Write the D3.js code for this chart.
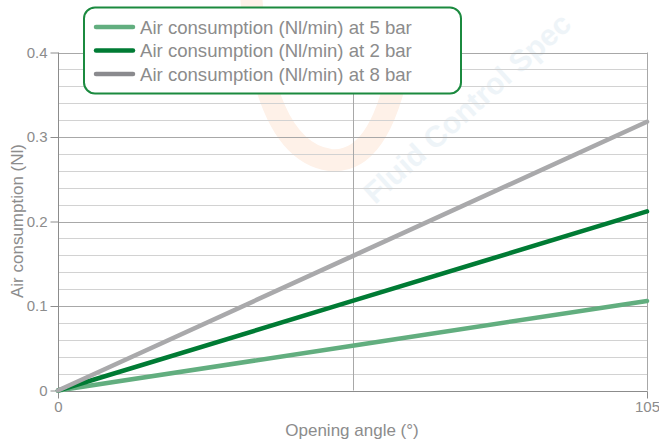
<!DOCTYPE html>
<html>
<head>
<meta charset="utf-8">
<script src="https://cdn.jsdelivr.net/npm/d3@7"></script>
<style>
  body { margin: 0; background: #fff; }
  text { font-family: "Liberation Sans Narrow", "Liberation Sans", sans-serif; fill: #8c8c8c; }
</style>
</head>
<body>
<svg width="659" height="441"></svg>
<script>
var angles = [0, 52.5, 105];
var bar5 = [0, 0.053, 0.106];
var bar2 = [0, 0.106, 0.212];
var bar8 = [0, 0.159, 0.318];
var seriesNames = ['Air consumption (Nl/min) at 5 bar', 'Air consumption (Nl/min) at 2 bar', 'Air consumption (Nl/min) at 8 bar'];
var seriesColors = ['#62ae7f', '#007b34', '#a9a9ab'];
var legendColors = ['#62ae7f', '#007b34', '#8a8a8e'];
var yTicks = [0, 0.1, 0.2, 0.3, 0.4];
var xTicks = [0, 105];

var svg = d3.select('svg');
var x = d3.scaleLinear().domain([0, 105]).range([58, 647]);
var y = d3.scaleLinear().domain([0, 0.4]).range([390.5, 52.5]);

// faint watermark
svg.append('path')
  .attr('d', 'M250,-20 Q260,150 330,160 Q380,165 400,60')
  .attr('fill', 'none').attr('stroke', '#fef1e8').attr('stroke-width', 22);
svg.append('text')
  .attr('transform', 'translate(375,205) rotate(-42)')
  .style('font-family', 'Liberation Sans').style('font-weight', 'bold').style('font-size', '30px')
  .style('fill', '#eef4f8').text('Fluid Control Spec');

// minor grid
var minor = d3.range(0.02, 0.4, 0.02).filter(function(v) { return Math.abs(v * 10 - Math.round(v * 10)) > 0.01; });
svg.append('g').selectAll('line').data(minor).enter().append('line')
  .attr('x1', x(0)).attr('x2', x(105))
  .attr('y1', function(d) { return Math.round(y(d)) + 0.5; })
  .attr('y2', function(d) { return Math.round(y(d)) + 0.5; })
  .attr('stroke', '#d2d2d2');

// major grid
svg.append('g').selectAll('line').data(yTicks.slice(1)).enter().append('line')
  .attr('x1', x(0)).attr('x2', x(105))
  .attr('y1', function(d) { return Math.round(y(d)) + 0.5; })
  .attr('y2', function(d) { return Math.round(y(d)) + 0.5; })
  .attr('stroke', '#a8a8a8');
svg.append('line')
  .attr('x1', Math.round(x(52.5)) + 0.5).attr('x2', Math.round(x(52.5)) + 0.5)
  .attr('y1', y(0.4)).attr('y2', y(0))
  .attr('stroke', '#a8a8a8');
svg.append('line')
  .attr('x1', x(105) + 0.5).attr('x2', x(105) + 0.5)
  .attr('y1', y(0.4)).attr('y2', y(0))
  .attr('stroke', '#a8a8a8');

// axes
var yAxis = svg.append('g').attr('transform', 'translate(' + (x(0) + 0.5) + ',0)')
  .call(d3.axisLeft(y).tickValues(yTicks).tickSize(8).tickPadding(3).tickFormat(function(d) { return d === 0 ? '0' : d3.format('.1f')(d); }));
var xAxis = svg.append('g').attr('transform', 'translate(0,' + (Math.round(y(0)) + 0.5) + ')')
  .call(d3.axisBottom(x).tickValues(xTicks).tickSize(7).tickPadding(3));
[yAxis, xAxis].forEach(function(a) {
  a.select('.domain').attr('stroke', '#8c8c8c');
  a.selectAll('.tick line').attr('stroke', '#8c8c8c');
  a.selectAll('.tick text').style('font-family', '"Liberation Sans Narrow", "Liberation Sans", sans-serif')
    .style('font-size', '15px').attr('fill', '#8c8c8c');
});
xAxis.select('.domain').attr('d', 'M' + x(0) + ',0H' + (x(105) + 0.5));
yAxis.select('.domain').attr('d', 'M0,' + y(0.4) + 'V' + y(0));

// series
var line = d3.line().x(function(d, i) { return x(angles[i]); }).y(function(d) { return y(d); });
[bar5, bar2, bar8].forEach(function(s, i) {
  svg.append('path').datum(s).attr('d', line)
    .attr('fill', 'none').attr('stroke', seriesColors[i]).attr('stroke-width', 4.5)
    .attr('stroke-linecap', 'round');
});

// axis titles
svg.append('text').attr('x', 352).attr('y', 436).attr('text-anchor', 'middle')
  .style('font-size', '17px').text('Opening angle (°)');
svg.append('text').attr('transform', 'translate(23,221) rotate(-90)').attr('text-anchor', 'middle')
  .style('font-size', '17px').text('Air consumption (Nl)');

// legend
var lg = svg.append('g');
lg.append('rect').attr('x', 84).attr('y', 7.5).attr('width', 377).attr('height', 86)
  .attr('rx', 11).attr('fill', '#fff').attr('stroke', '#1b8a3f').attr('stroke-width', 2);
seriesNames.forEach(function(n, i) {
  var yy = 27 + i * 23.5;
  lg.append('line').attr('x1', 96).attr('x2', 133).attr('y1', yy).attr('y2', yy)
    .attr('stroke', legendColors[i]).attr('stroke-width', 4.5).attr('stroke-linecap', 'round');
  lg.append('text').attr('x', 140).attr('y', yy + 6.5).style('font-size', '18.6px').text(n);
});
</script>
</body>
</html>
